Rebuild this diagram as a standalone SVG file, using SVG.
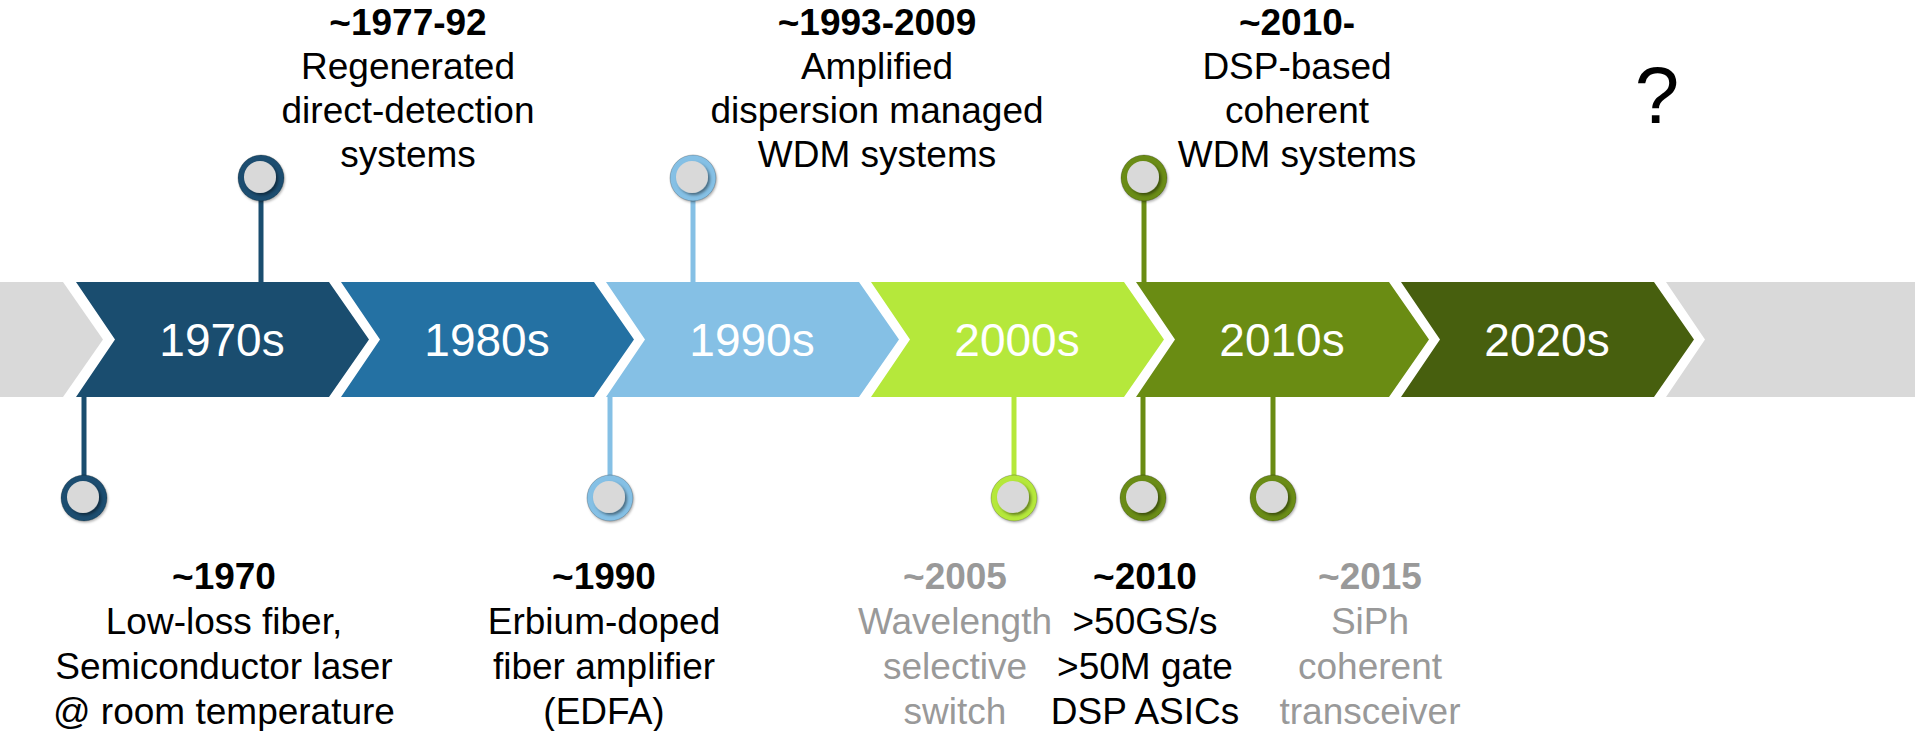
<svg xmlns="http://www.w3.org/2000/svg" width="1915" height="731" viewBox="0 0 1915 731">
  <defs>
    <filter id="sh" x="-50%" y="-50%" width="200%" height="200%">
      <feDropShadow dx="2" dy="2" stdDeviation="1.5" flood-color="#000" flood-opacity="0.45"/>
    </filter>
    <filter id="sh2" x="-50%" y="-50%" width="200%" height="200%">
      <feDropShadow dx="1" dy="1.5" stdDeviation="1.2" flood-color="#000" flood-opacity="0.3"/>
    </filter>
  </defs>
  <style>
    text { font-family: "Liberation Sans", Arial, sans-serif; text-anchor: middle; }
    .t { font-size: 37px; fill: #000; }
    .b { font-weight: bold; }
    .g { fill: #999999; }
    .dec { font-size: 46px; fill: #ffffff; }
    .q { font-size: 80px; fill: #000; }
    .inner { fill: #d9d9d9; filter: url(#sh); }
    .ring { stroke: #000; stroke-opacity: 0.22; stroke-width: 1; filter: url(#sh2); }
    .stem { stroke-width: 5; fill: none; }
    .c70 { fill: #1a4d6f; } .s70 { stroke: #1a4d6f; }
    .c80 { fill: #2471a3; }
    .c90 { fill: #85c0e5; } .s90 { stroke: #85c0e5; }
    .c00 { fill: #b5e83b; } .s00 { stroke: #b5e83b; }
    .c10 { fill: #6a8c13; } .s10 { stroke: #6a8c13; }
    .c20 { fill: #475f0e; }
    .grey { fill: #d9d9d9; }
  </style>

  <g id="timeline">
    <g id="band-left"><polygon class="grey" points="0,282 63,282 103,339.5 63,397 0,397"/></g>
    <g id="dec-1970s">
      <polygon class="c70" points="76,282 329,282 369,339.5 329,397 76,397 115,339.5"/>
      <text class="dec" x="222" y="356">1970s</text>
    </g>
    <g id="dec-1980s">
      <polygon class="c80" points="341,282 594,282 634,339.5 594,397 341,397 380,339.5"/>
      <text class="dec" x="487" y="356">1980s</text>
    </g>
    <g id="dec-1990s">
      <polygon class="c90" points="606,282 859,282 899,339.5 859,397 606,397 645,339.5"/>
      <text class="dec" x="752" y="356">1990s</text>
    </g>
    <g id="dec-2000s">
      <polygon class="c00" points="871,282 1124,282 1164,339.5 1124,397 871,397 910,339.5"/>
      <text class="dec" x="1017" y="356">2000s</text>
    </g>
    <g id="dec-2010s">
      <polygon class="c10" points="1136,282 1389,282 1429,339.5 1389,397 1136,397 1175,339.5"/>
      <text class="dec" x="1282" y="356">2010s</text>
    </g>
    <g id="dec-2020s">
      <polygon class="c20" points="1401,282 1654,282 1694,339.5 1654,397 1401,397 1440,339.5"/>
      <text class="dec" x="1547" y="356">2020s</text>
    </g>
    <g id="band-right"><polygon class="grey" points="1666,282 1915,282 1915,397 1666,397 1705,339.5"/></g>
  </g>

  <g id="connectors">
    <line class="stem s70" x1="261" y1="282" x2="261" y2="200"/>
    <line class="stem s70" x1="84" y1="397" x2="84" y2="478"/>
    <line class="stem s90" x1="693" y1="282" x2="693" y2="200"/>
    <line class="stem s90" x1="610" y1="397" x2="610" y2="478"/>
    <line class="stem s00" x1="1014" y1="397" x2="1014" y2="478"/>
    <line class="stem s10" x1="1144" y1="282" x2="1144" y2="200"/>
    <line class="stem s10" x1="1143" y1="397" x2="1143" y2="478"/>
    <line class="stem s10" x1="1273" y1="397" x2="1273" y2="478"/>
  </g>

  <g id="m-1977">
    <circle class="ring c70" cx="261" cy="178" r="23"/>
    <circle class="inner" cx="260" cy="177" r="16"/>
    <text class="t b" x="408" y="35">~1977-92</text>
    <text class="t" x="408" y="79">Regenerated</text>
    <text class="t" x="408" y="123">direct-detection</text>
    <text class="t" x="408" y="167">systems</text>
  </g>

  <g id="m-1993">
    <circle class="ring c90" cx="693" cy="178" r="23"/>
    <circle class="inner" cx="692" cy="177" r="16"/>
    <text class="t b" x="877" y="35">~1993-2009</text>
    <text class="t" x="877" y="79">Amplified</text>
    <text class="t" x="877" y="123">dispersion managed</text>
    <text class="t" x="877" y="167">WDM systems</text>
  </g>

  <g id="m-2010-top">
    <circle class="ring c10" cx="1144" cy="178" r="23"/>
    <circle class="inner" cx="1143" cy="177" r="16"/>
    <text class="t b" x="1297" y="35">~2010-</text>
    <text class="t" x="1297" y="79">DSP-based</text>
    <text class="t" x="1297" y="123">coherent</text>
    <text class="t" x="1297" y="167">WDM systems</text>
  </g>

  <g id="m-future">
    <text class="q" x="1657" y="123">?</text>
  </g>

  <g id="m-1970">
    <circle class="ring c70" cx="84" cy="498" r="23"/>
    <circle class="inner" cx="83" cy="497" r="16"/>
    <text class="t b" x="224" y="589">~1970</text>
    <text class="t" x="224" y="634">Low-loss fiber,</text>
    <text class="t" x="224" y="679">Semiconductor laser</text>
    <text class="t" x="224" y="724">@ room temperature</text>
  </g>

  <g id="m-1990">
    <circle class="ring c90" cx="610" cy="498" r="23"/>
    <circle class="inner" cx="609" cy="497" r="16"/>
    <text class="t b" x="604" y="589">~1990</text>
    <text class="t" x="604" y="634">Erbium-doped</text>
    <text class="t" x="604" y="679">fiber amplifier</text>
    <text class="t" x="604" y="724">(EDFA)</text>
  </g>

  <g id="m-2005">
    <circle class="ring c00" cx="1014" cy="498" r="23"/>
    <circle class="inner" cx="1013" cy="497" r="16"/>
    <text class="t b g" x="955" y="589">~2005</text>
    <text class="t g" x="955" y="634">Wavelength</text>
    <text class="t g" x="955" y="679">selective</text>
    <text class="t g" x="955" y="724">switch</text>
  </g>

  <g id="m-2010-bottom">
    <circle class="ring c10" cx="1143" cy="498" r="23"/>
    <circle class="inner" cx="1142" cy="497" r="16"/>
    <text class="t b" x="1145" y="589">~2010</text>
    <text class="t" x="1145" y="634">&gt;50GS/s</text>
    <text class="t" x="1145" y="679">&gt;50M gate</text>
    <text class="t" x="1145" y="724">DSP ASICs</text>
  </g>

  <g id="m-2015">
    <circle class="ring c10" cx="1273" cy="498" r="23"/>
    <circle class="inner" cx="1272" cy="497" r="16"/>
    <text class="t b g" x="1370" y="589">~2015</text>
    <text class="t g" x="1370" y="634">SiPh</text>
    <text class="t g" x="1370" y="679">coherent</text>
    <text class="t g" x="1370" y="724">transceiver</text>
  </g>
</svg>
